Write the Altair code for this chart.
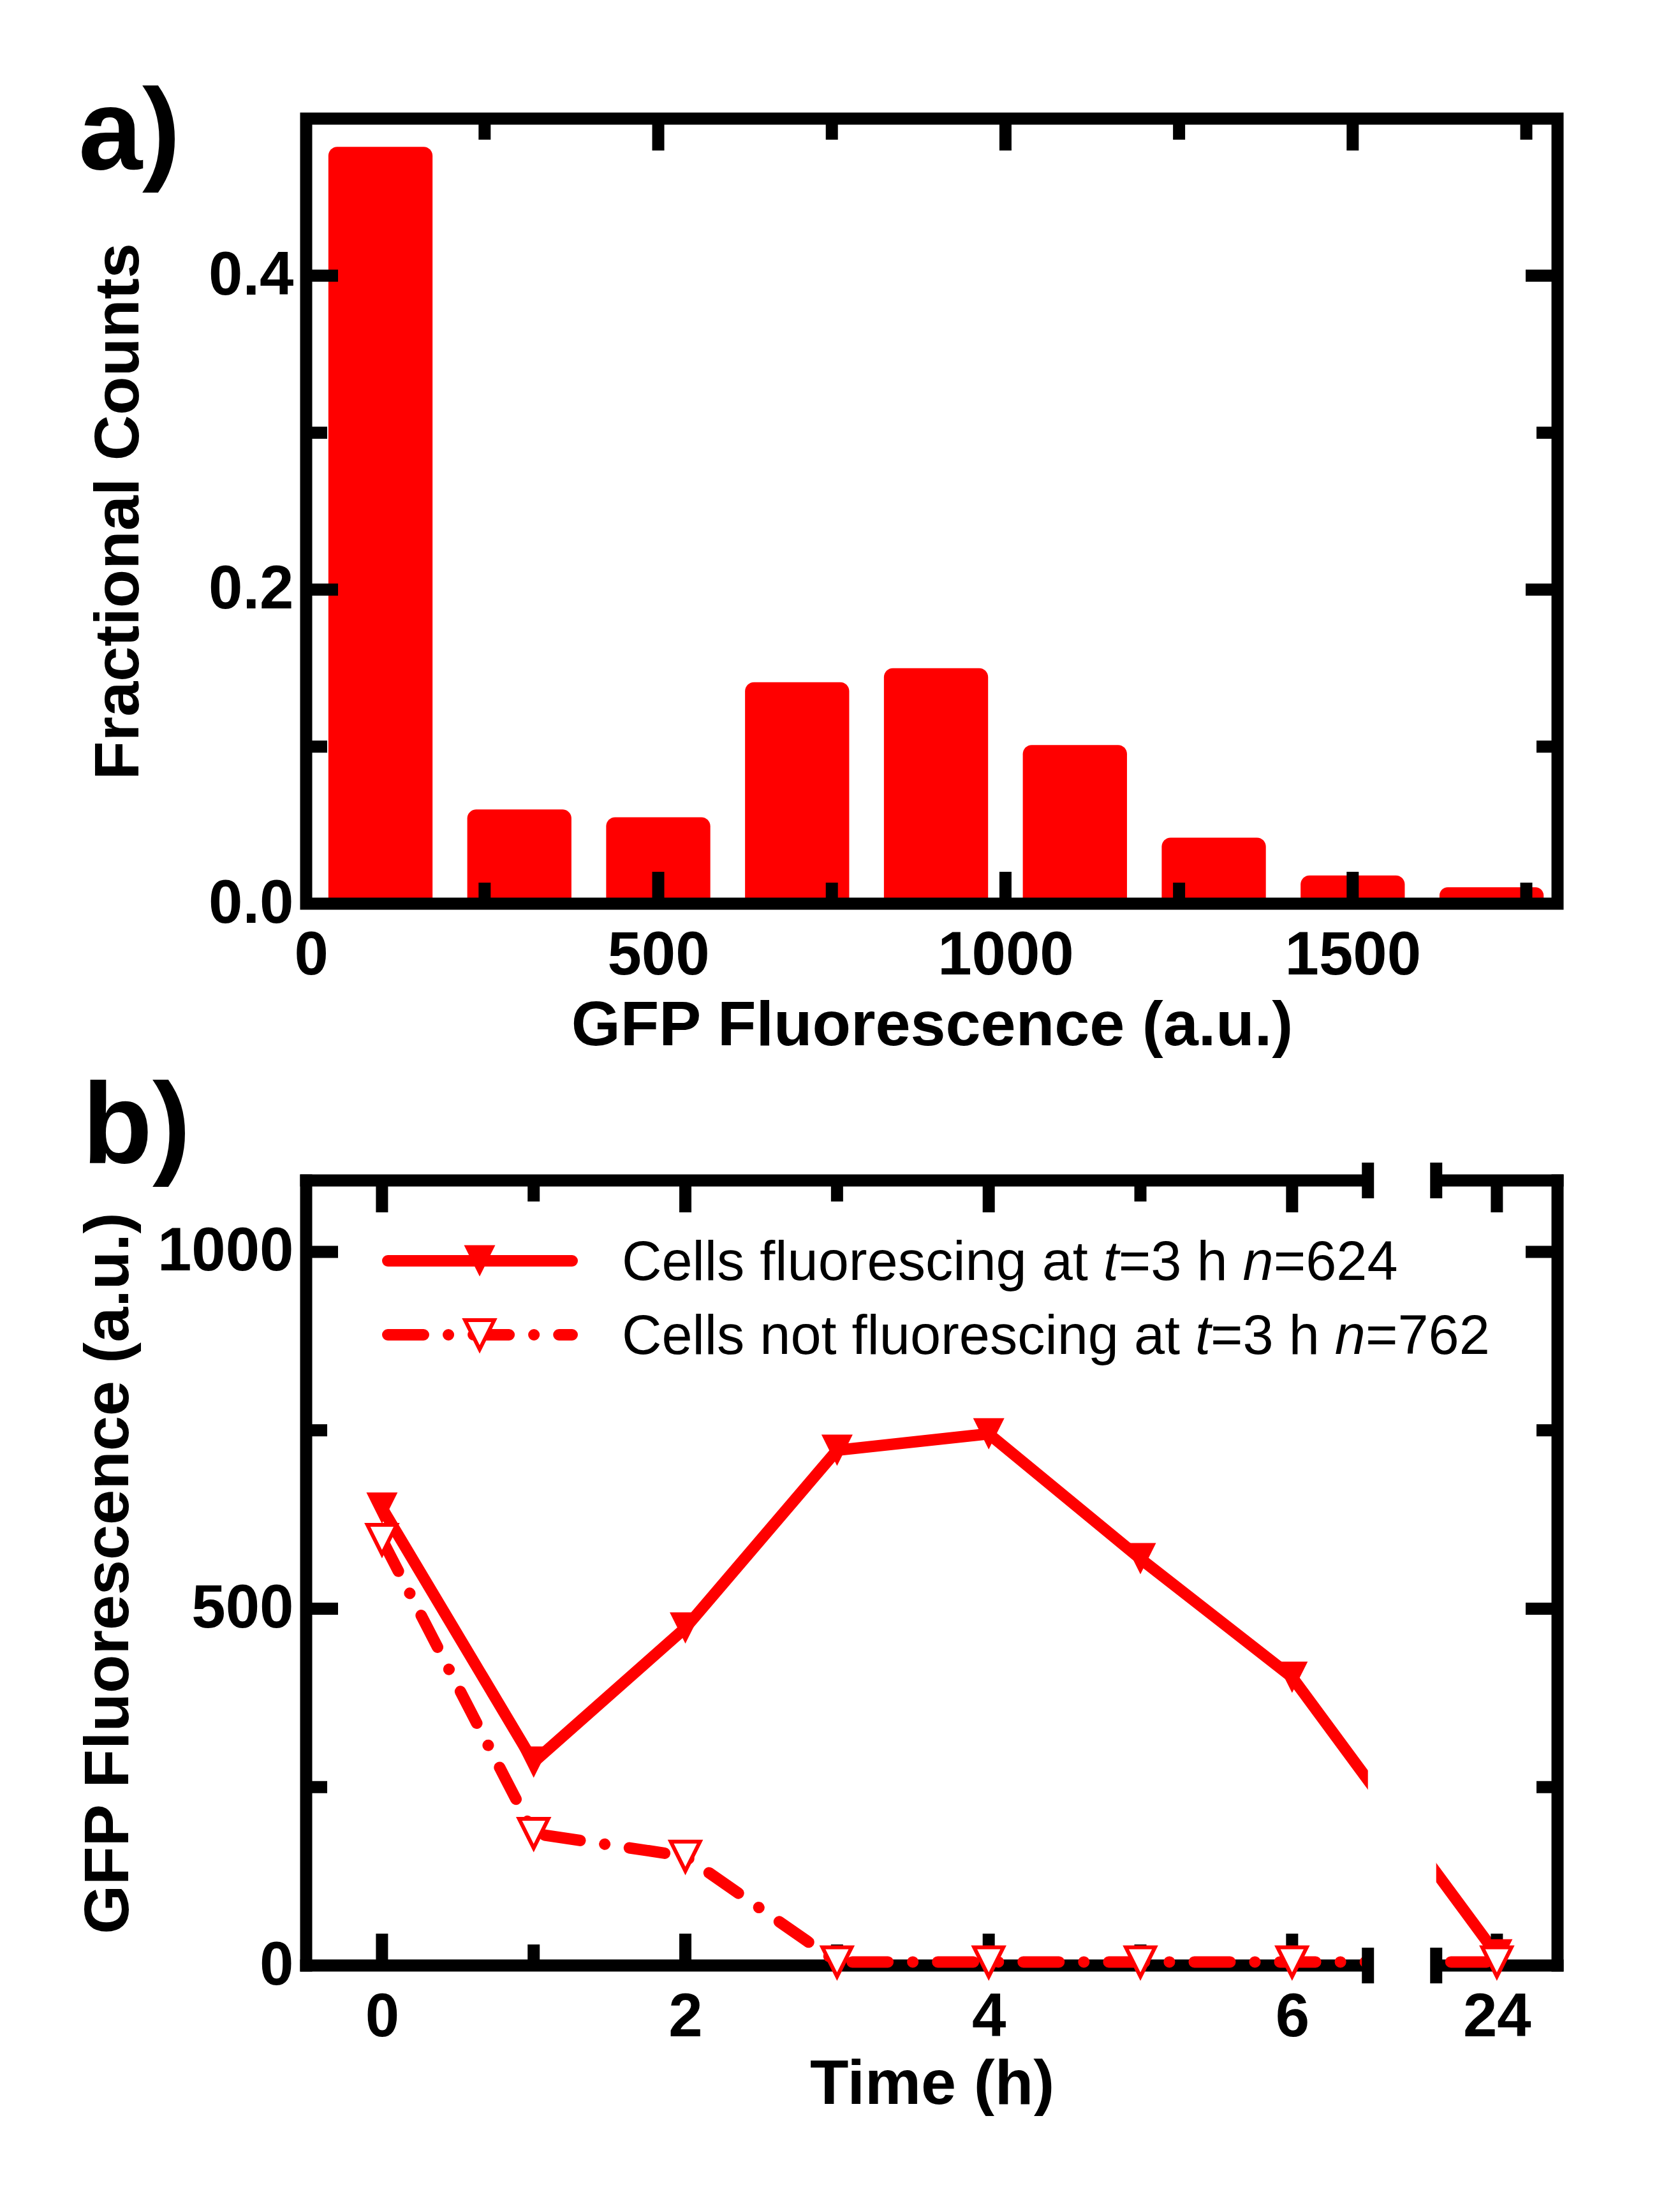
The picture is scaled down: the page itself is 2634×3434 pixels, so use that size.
import altair as alt
import pandas as pd

# ---------------- data ----------------
# panel a: histogram of GFP fluorescence
bin_centers = [100, 300, 500, 700, 900, 1100, 1300, 1500, 1700]
fractional_counts = [0.482, 0.060, 0.055, 0.141, 0.150, 0.101, 0.042, 0.018, 0.0105]
bin_width = 150

a_x_labels = [0, 500, 1000, 1500]
a_x_major = [500, 1000, 1500]
a_x_minor = [250, 750, 1250, 1750]
a_y_labels = [0.0, 0.2, 0.4]
a_y_major = [0.2, 0.4]
a_y_minor = [0.1, 0.3]

# panel b: time course
times = [0, 1, 2, 3, 4, 5, 6, 24]
fluorescing = [641, 285, 473, 722, 745, 570, 404, 15]
not_fluorescing = [597, 185, 153, 5, 5, 5, 5, 5]

b_x_labels = [0, 2, 4, 6, 24]
b_x_major = [0, 2, 4, 6, 24]
b_x_minor = [1, 3, 5]
b_y_labels = [0, 500, 1000]
b_y_major = [500, 1000]
b_y_minor = [250, 750]

legend_parts = [
    ["Cells fluorescing at ", "t", "=3 h ", "n", "=624"],
    ["Cells not fluorescing at ", "t", "=3 h ", "n", "=762"],
]
italic_parts = ["t", "n"]

# broken time axis: segment 1 = [-0.5, 6.5], segment 2 = [23.6, 24.4]
break_lo, break_hi = 6.5, 6.95
seg2_start = 23.6


def tpos(t):
    return t if t <= 6 else t - (seg2_start - break_hi)


# ---------------- style ----------------
W, H = 1962, 1231
FONT = "Liberation Sans"
RED = "#ff0000"
TW = 19          # frame / tick stroke
MAJ, MIN = 50, 33
LW = 18          # data line width
TRI = "M-1,-1L1,-1L0,1Z"
ONE = alt.Data(values=[{}])
LABEL_FS = 96

# ---------------- panel a ----------------
xa = alt.Scale(domain=[-7, 1795], nice=False, zero=False)
ya = alt.Scale(domain=[0, 0.5], nice=False, zero=False)

AXA_X = alt.Axis(
    values=a_x_labels, format="d", ticks=False, tickSize=0, domain=False, grid=False,
    labelPadding=110, labelBaseline="alphabetic", labelFlush=False, labelOverlap=False,
    labelLimit=1000,
    title="GFP Fluorescence (a.u.)", titleX=W / 2, titleY=221,
    titleBaseline="alphabetic", titleAlign="center", titleAngle=0)
AXA_Y = alt.Axis(
    values=a_y_labels, format=".1f", ticks=False, tickSize=0, domain=False, grid=False,
    labelPadding=20, labelFlush=False, labelOverlap=False, labelLimit=1000,
    title="Fractional Counts", titleAngle=270, titleX=-264, titleY=H / 2,
    titleBaseline="alphabetic", titleAlign="center")

df_a = pd.DataFrame({"center": bin_centers, "frac": fractional_counts})
df_a["lo"] = df_a["center"] - bin_width / 2
df_a["hi"] = df_a["center"] + bin_width / 2

bars = alt.Chart(df_a).mark_bar(
    color=RED, cornerRadiusTopLeft=14, cornerRadiusTopRight=14
).encode(
    x=alt.X("lo:Q", scale=xa, axis=AXA_X),
    x2="hi:Q",
    y=alt.Y("frac:Q", scale=ya, axis=AXA_Y),
    y2=alt.Y2Datum(0),
)

frame_a = alt.Chart(ONE).mark_rect(filled=False, stroke="black", strokeWidth=TW, strokeJoin="miter").encode(
    x=alt.value(0), x2=alt.value(W), y=alt.value(0), y2=alt.value(H)
)


def xticks(values, scale, axis, length):
    df = pd.DataFrame({"v": values})
    base = alt.Chart(df).mark_rule(color="black", strokeWidth=TW)
    enc_x = alt.X("v:Q", scale=scale, axis=axis)
    return [
        base.encode(x=enc_x, y=alt.value(H - length), y2=alt.value(H)),
        base.encode(x=enc_x, y=alt.value(0), y2=alt.value(length)),
    ]


def yticks(values, scale, axis, length):
    df = pd.DataFrame({"v": values})
    base = alt.Chart(df).mark_rule(color="black", strokeWidth=TW)
    enc_y = alt.Y("v:Q", scale=scale, axis=axis)
    return [
        base.encode(y=enc_y, x=alt.value(0), x2=alt.value(length)),
        base.encode(y=enc_y, x=alt.value(W - length), x2=alt.value(W)),
    ]


letter_a = alt.Chart(ONE).mark_text(
    text="a)", font=FONT, fontSize=180, fontWeight="bold", align="left",
    baseline="alphabetic", color="black"
).encode(x=alt.value(-357), y=alt.value(79))

anchor = alt.Chart(ONE).mark_rect(color="white").encode(
    x=alt.value(-472), x2=alt.value(-471), y=alt.value(-178), y2=alt.value(-177)
)

panel_a = alt.layer(
    bars, anchor, frame_a,
    *xticks(a_x_major, xa, AXA_X, MAJ), *xticks(a_x_minor, xa, AXA_X, MIN),
    *yticks(a_y_major, ya, AXA_Y, MAJ), *yticks(a_y_minor, ya, AXA_Y, MIN),
    letter_a,
).properties(width=W, height=H)

# ---------------- panel b ----------------
xb = alt.Scale(domain=[-0.5, 7.75], nice=False, zero=False)
yb = alt.Scale(domain=[0, 1100], nice=False, zero=False)

AXB_X = alt.Axis(
    values=[tpos(t) for t in b_x_labels], ticks=False, tickSize=0, domain=False, grid=False,
    labelExpr="datum.value > 7 ? '24' : format(datum.value, 'd')",
    labelPadding=110, labelBaseline="alphabetic", labelFlush=False, labelOverlap=False,
    labelLimit=1000,
    title="Time (h)", titleX=W / 2, titleY=216, titleBaseline="alphabetic",
    titleAlign="center", titleAngle=0)
AXB_Y = alt.Axis(
    values=b_y_labels, format="d", ticks=False, tickSize=0, domain=False, grid=False,
    labelPadding=20, labelFlush=False, labelOverlap=False, labelLimit=1000,
    title="GFP Fluorescence (a.u.)", titleAngle=270, titleX=-280, titleY=H / 2,
    titleBaseline="alphabetic", titleAlign="center")

df_b = pd.DataFrame({
    "t": times,
    "pos": [tpos(t) for t in times],
    "on": fluorescing,
    "off": not_fluorescing,
})

xenc = alt.X("pos:Q", scale=xb, axis=AXB_X)

line_on = alt.Chart(df_b).mark_line(
    color=RED, strokeWidth=LW, strokeJoin="miter", strokeCap="butt"
).encode(x=xenc, y=alt.Y("on:Q", scale=yb, axis=AXB_Y))

DASH = [56, 39, 0.1, 39]
line_off = alt.Chart(df_b).mark_line(
    color=RED, strokeWidth=LW, strokeDash=DASH, strokeCap="round", strokeJoin="round"
).encode(x=xenc, y=alt.Y("off:Q", scale=yb, axis=AXB_Y))


def xdat(v):
    return alt.XDatum(v, type="quantitative", scale=xb, axis=AXB_X)


gap = alt.Chart(ONE).mark_rect(color="white").encode(
    x=xdat(break_lo), x2=alt.X2Datum(break_hi),
    y=alt.value(-40), y2=alt.value(H + 40),
)

frame_rules = []
for a0, a1 in [(-0.5, break_lo), (break_hi, 7.75)]:
    for yy in (0, H):
        frame_rules.append(
            alt.Chart(ONE).mark_rule(color="black", strokeWidth=TW, strokeCap="square").encode(
                x=xdat(a0), x2=alt.X2Datum(a1), y=alt.value(yy))
        )
for xx in (0, W):
    frame_rules.append(
        alt.Chart(ONE).mark_rule(color="black", strokeWidth=TW, strokeCap="square").encode(
            x=alt.value(xx), y=alt.value(0), y2=alt.value(H))
    )

break_marks = []
for bx in (break_lo, break_hi):
    for yy in (0, H):
        break_marks.append(
            alt.Chart(ONE).mark_rule(color="black", strokeWidth=TW).encode(
                x=xdat(bx), y=alt.value(yy - 28), y2=alt.value(yy + 28))
        )

tick_b = []
for vals, ln in [(b_x_major, MAJ), (b_x_minor, MIN)]:
    tick_b += xticks([tpos(t) for t in vals], xb, AXB_X, ln)
tick_b += yticks(b_y_major, yb, AXB_Y, MAJ) + yticks(b_y_minor, yb, AXB_Y, MIN)

pts_on = alt.Chart(df_b).mark_point(
    shape=TRI, filled=True, color=RED, size=2400, opacity=1, strokeWidth=0
).encode(x=xenc, y=alt.Y("on:Q", scale=yb, axis=AXB_Y))
pts_off = alt.Chart(df_b).mark_point(
    shape=TRI, filled=True, fill="white", stroke=RED, strokeWidth=6, size=2100, opacity=1
).encode(x=xenc, y=alt.Y("off:Q", scale=yb, axis=AXB_Y))

# legend (drawn inside the plot)
LEG_X0, LEG_X1, LEG_MK, LEG_TX = 128, 417, 272, 495
LEG_Y = [126, 242]
LEG_BASE = [156, 272]
LEG_FS = 86.5
arial = {"C": 722, "e": 556, "l": 222, "s": 500, " ": 278, "f": 278, "u": 556, "o": 556,
         "r": 333, "c": 500, "i": 222, "n": 556, "g": 556, "a": 556, "t": 278, "=": 584,
         "h": 556}


def text_w(s):
    return sum(arial.get(ch, 556) for ch in s) * LEG_FS / 1000.0


legend = []
for row, parts in enumerate(legend_parts):
    yy = LEG_Y[row]
    line_kw = dict(color=RED, strokeWidth=LW, strokeCap="round")
    if row == 1:
        line_kw["strokeDash"] = DASH
    legend.append(alt.Chart(ONE).mark_rule(**line_kw).encode(
        x=alt.value(LEG_X0), x2=alt.value(LEG_X1), y=alt.value(yy)))
    if row == 0:
        legend.append(alt.Chart(ONE).mark_point(
            shape=TRI, filled=True, color=RED, size=2400, opacity=1, strokeWidth=0
        ).encode(x=alt.value(LEG_MK), y=alt.value(yy)))
    else:
        legend.append(alt.Chart(ONE).mark_point(
            shape=TRI, filled=True, fill="white", stroke=RED, strokeWidth=6, size=2100, opacity=1
        ).encode(x=alt.value(LEG_MK), y=alt.value(yy)))
    off = 0.0
    for p in parts:
        legend.append(alt.Chart(ONE).mark_text(
            text=p.strip(), font=FONT, fontSize=LEG_FS, align="left", baseline="alphabetic",
            color="black", fontStyle="italic" if p in italic_parts else "normal"
        ).encode(x=alt.value(LEG_TX + off), y=alt.value(LEG_BASE[row])))
        off += text_w(p)

letter_b = alt.Chart(ONE).mark_text(
    text="b)", font=FONT, fontSize=180, fontWeight="bold", align="left",
    baseline="alphabetic", color="black"
).encode(x=alt.value(-351), y=alt.value(-27))

panel_b = alt.layer(
    line_on, *frame_rules, *tick_b, line_off, gap, *break_marks,
    pts_on, pts_off, *legend, letter_b,
).properties(width=W, height=H)

chart = alt.vconcat(panel_a, panel_b, spacing=434, bounds="flush").properties(
    padding=0
).configure_view(strokeWidth=0).configure_axis(
    labelFont=FONT, labelFontSize=LABEL_FS, labelFontWeight="bold", labelColor="black",
    titleFont=FONT, titleFontSize=99, titleFontWeight="bold", titleColor="black",
)

chart.save("out.html", embed_options={"renderer": "svg", "actions": False})
